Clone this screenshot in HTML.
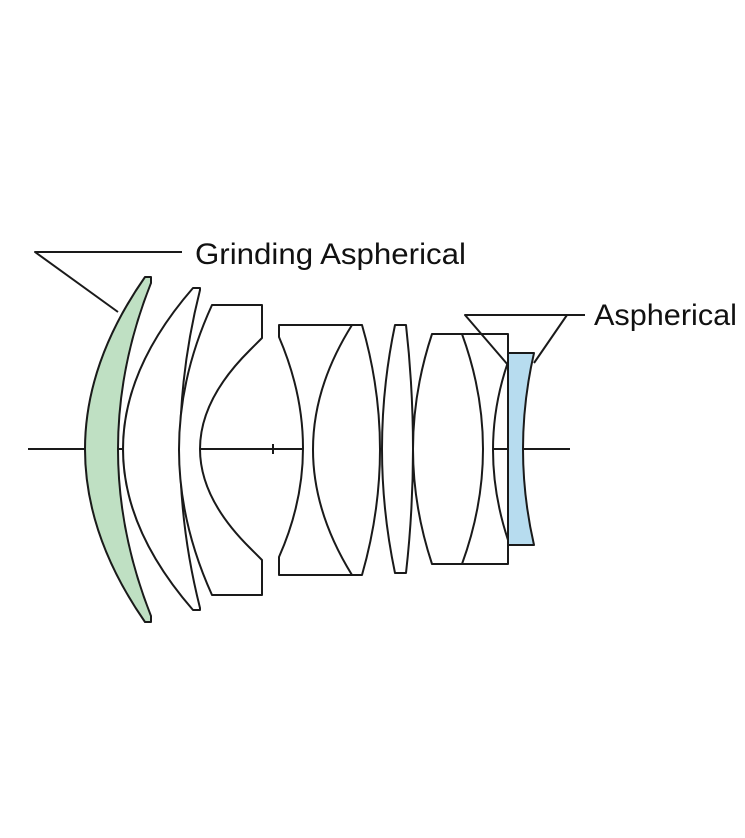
<!DOCTYPE html>
<html><head><style>
html,body{margin:0;padding:0;background:#fff;}
svg{display:block;}
text{font-family:"Liberation Sans",Arial,sans-serif;fill:#111;}
</style></head><body>
<svg width="745" height="838" viewBox="0 0 745 838" xmlns="http://www.w3.org/2000/svg">
<g fill="none" stroke="#1a1a1a" stroke-width="2" stroke-linejoin="round">
<line x1="28" y1="449" x2="570" y2="449"/>
<path d="M145,277 L151,277 L151,283 Q85,449 151,616 L151,622 L145,622 Q25,449 145,277 Z" fill="#bfe0c3"/>
<path d="M193,288 L200,288 L200,290 Q160,449 200,608 L200,610 L193,610 Q53,449 193,288 Z" fill="#fff"/>
<path d="M212,305 L262,305 L262,338 L250,350 Q150,449 250,548 L262,560 L262,595 L212,595 Q146,449 212,305 Z" fill="#fff"/>
<path d="M279,325 L362,325 Q398,449 362,575 L279,575 L279,557 Q327,449 279,337 Z" fill="#fff"/>
<path d="M352,325 Q274,449 352,575"/>
<path d="M395,325 L406,325 Q420,449 406,573 L395,573 Q369,449 395,325 Z" fill="#fff"/>
<path d="M432,334 L508,334 L508,362 Q478,449 508,540 L508,564 L432,564 Q394,449 432,334 Z" fill="#fff"/>
<path d="M462,334 Q504,449 462,564"/>
<path d="M508,353 L534,353 Q512,449 534,545 L508,545 Z" fill="#b7dcef"/>
<polyline points="182,252 35,252 118,312"/>
<polyline points="508,365 465,315 585,315"/>
<line x1="567" y1="315" x2="534" y2="363"/>
<line x1="273" y1="444" x2="273" y2="454"/>
</g>
<text x="195" y="264" font-size="30" textLength="271" lengthAdjust="spacingAndGlyphs">Grinding Aspherical</text>
<text x="594" y="325" font-size="30" textLength="143" lengthAdjust="spacingAndGlyphs">Aspherical</text>
</svg>
</body></html>
